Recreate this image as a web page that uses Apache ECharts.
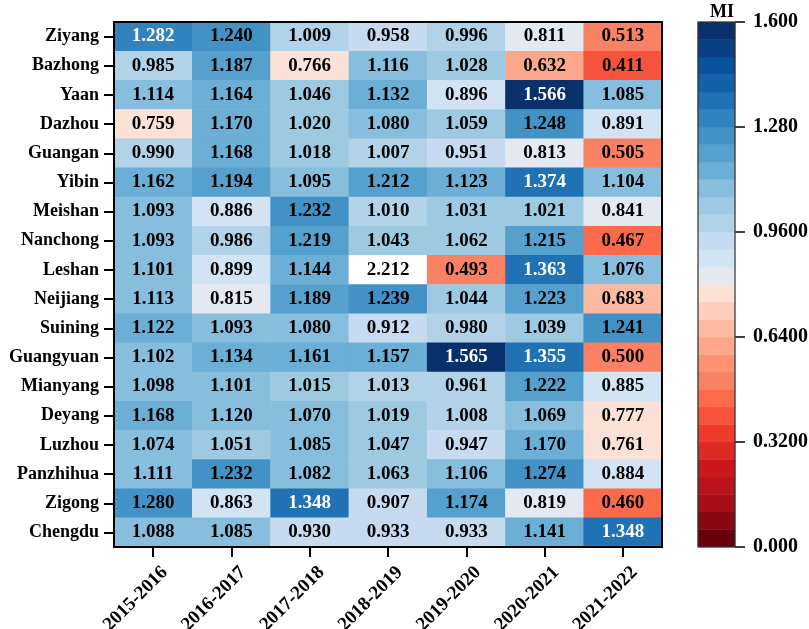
<!DOCTYPE html>
<html>
<head>
<meta charset="utf-8">
<script src="https://cdn.jsdelivr.net/npm/echarts@6/dist/echarts.min.js"></script>
<style>
  html, body { margin: 0; padding: 0; background: #fff; }
  #main { width: 809px; height: 629px; }
</style>
</head>
<body>
<div id="main"></div>
<script>
// 数据
var periods = ['2015-2016', '2016-2017', '2017-2018', '2018-2019', '2019-2020', '2020-2021', '2021-2022']
var cities = ['Ziyang', 'Bazhong', 'Yaan', 'Dazhou', 'Guangan', 'Yibin', 'Meishan', 'Nanchong', 'Leshan',
    'Neijiang', 'Suining', 'Guangyuan', 'Mianyang', 'Deyang', 'Luzhou', 'Panzhihua', 'Zigong', 'Chengdu']
var miValues = [
    [1.282, 1.240, 1.009, 0.958, 0.996, 0.811, 0.513], // Ziyang
    [0.985, 1.187, 0.766, 1.116, 1.028, 0.632, 0.411], // Bazhong
    [1.114, 1.164, 1.046, 1.132, 0.896, 1.566, 1.085], // Yaan
    [0.759, 1.170, 1.020, 1.080, 1.059, 1.248, 0.891], // Dazhou
    [0.990, 1.168, 1.018, 1.007, 0.951, 0.813, 0.505], // Guangan
    [1.162, 1.194, 1.095, 1.212, 1.123, 1.374, 1.104], // Yibin
    [1.093, 0.886, 1.232, 1.010, 1.031, 1.021, 0.841], // Meishan
    [1.093, 0.986, 1.219, 1.043, 1.062, 1.215, 0.467], // Nanchong
    [1.101, 0.899, 1.144, 2.212, 0.493, 1.363, 1.076], // Leshan
    [1.113, 0.815, 1.189, 1.239, 1.044, 1.223, 0.683], // Neijiang
    [1.122, 1.093, 1.080, 0.912, 0.980, 1.039, 1.241], // Suining
    [1.102, 1.134, 1.161, 1.157, 1.565, 1.355, 0.500], // Guangyuan
    [1.098, 1.101, 1.015, 1.013, 0.961, 1.222, 0.885], // Mianyang
    [1.168, 1.120, 1.070, 1.019, 1.008, 1.069, 0.777], // Deyang
    [1.074, 1.051, 1.085, 1.047, 0.947, 1.170, 0.761], // Luzhou
    [1.111, 1.232, 1.082, 1.063, 1.106, 1.274, 0.884], // Panzhihua
    [1.280, 0.863, 1.348, 0.907, 1.174, 0.819, 0.460], // Zigong
    [1.088, 1.085, 0.930, 0.933, 0.933, 1.141, 1.348], // Chengdu
]

// 色带 (从 0 到 1.6，共 30 段)
var scaleMin = 0
var scaleMax = 1.6
var scaleTicks = ['0.000', '0.3200', '0.6400', '0.9600', '1.280', '1.600']
var scaleColors = [
    '#67000d', '#860811', '#a50f15', '#b81419', '#cb181d', '#dd2a25', '#ef3b2c', '#f5533b',
    '#fb6a4a', '#fa8264', '#fc9272', '#fca78a', '#fcbba1', '#fdceba', '#fbe1d6',
    '#e3e8f1', '#d2e3f3', '#c6dbef', '#b2d2e8', '#9ecae1', '#87bddd', '#6baed6', '#56a0ce',
    '#4292c6', '#3282be', '#2171b5', '#1461a8', '#08519c', '#084083', '#08306b'
]

var step = (scaleMax - scaleMin) / scaleColors.length
var FONT = '"Liberation Serif", "Times New Roman", serif'

var pieces = scaleColors.map(function (c, i) {
    var p = { lte: scaleMin + (i + 1) * step, color: c }
    if (i === 0) {
        p.gte = scaleMin
    } else {
        p.gt = scaleMin + i * step
    }
    return p
})

var cellData = []
miValues.forEach(function (row, r) {
    row.forEach(function (v, c) {
        var dark = v > 1.2805 && v <= scaleMax
        cellData.push({
            value: [c, r, v],
            label: { color: dark ? '#ffffff' : '#000000' },
        })
    })
})

var barData = scaleColors.map(function (c, i) {
    return [0, i, scaleMin + (i + 0.5) * step]
})
var barCats = scaleColors.map(function (c, i) { return String(i) })

var chart = echarts.init(document.getElementById('main'), null, { renderer: 'canvas' })
var option = {
    backgroundColor: '#ffffff',
    animation: false,
    textStyle: { fontFamily: FONT },
    title: {
        text: 'MI',
        left: 717,
        top: -2,
        textAlign: 'center',
        textStyle: { fontFamily: FONT, fontWeight: 'bold', fontSize: 18, color: '#000' },
    },
    grid: [
        {
            left: 114, top: 22, width: 548, height: 525, outerBoundsMode: 'none', containLabel: false,
            show: true, borderColor: '#000', borderWidth: 2, z: 10,
        },
        {
            left: 698, top: 22, width: 37, height: 525, outerBoundsMode: 'none', containLabel: false,
            show: true, borderColor: '#333', borderWidth: 1.2, z: 10,
        },
    ],
    xAxis: [
        {
            type: 'category',
            gridIndex: 0,
            data: periods,
            axisLine: { show: false },
            axisTick: { show: true, alignWithLabel: true, length: 10, lineStyle: { color: '#000', width: 2 } },
            axisLabel: {
                rotate: 45, margin: 11, align: 'right', verticalAlign: 'top', lineHeight: 33,
                fontSize: 19, fontWeight: 'bold', color: '#000', fontFamily: FONT,
            },
            splitLine: { show: false },
        },
        {
            type: 'category',
            gridIndex: 1,
            data: ['MI'],
            show: false,
        },
    ],
    yAxis: [
        {
            type: 'category',
            gridIndex: 0,
            data: cities,
            inverse: true,
            axisLine: { show: false },
            axisTick: { show: true, alignWithLabel: true, length: 10, lineStyle: { color: '#000', width: 2 } },
            axisLabel: { margin: 15, fontSize: 18, fontWeight: 'bold', color: '#000', fontFamily: FONT },
            splitLine: { show: false },
        },
        {
            type: 'category',
            gridIndex: 1,
            data: barCats,
            show: false,
        },
        {
            type: 'value',
            gridIndex: 1,
            position: 'right',
            min: scaleMin,
            max: scaleMax,
            interval: 0.32,
            axisLine: { show: false },
            axisTick: { show: true, length: 10, lineStyle: { color: '#000', width: 1.5 } },
            axisLabel: {
                margin: 18, fontSize: 20, fontWeight: 'bold', color: '#000', fontFamily: FONT,
                formatter: function (v) {
                    return scaleTicks[Math.round((v - scaleMin) / 0.32)]
                },
            },
            splitLine: { show: false },
        },
    ],
    visualMap: {
        type: 'piecewise',
        show: false,
        dimension: 2,
        seriesIndex: [0, 1],
        pieces: pieces,
        outOfRange: { color: '#ffffff' },
    },
    series: [
        {
            type: 'heatmap',
            xAxisIndex: 0,
            yAxisIndex: 0,
            data: cellData,
            label: {
                show: true,
                fontFamily: FONT,
                fontSize: 19,
                fontWeight: 'bold',
                formatter: function (p) { return p.value[2].toFixed(3) },
            },
            itemStyle: { borderWidth: 0 },
            emphasis: { disabled: true },
        },
        {
            type: 'heatmap',
            xAxisIndex: 1,
            yAxisIndex: 1,
            data: barData,
            itemStyle: { borderWidth: 0 },
            emphasis: { disabled: true },
        },
    ],
}
chart.setOption(option)
</script>
</body>
</html>
